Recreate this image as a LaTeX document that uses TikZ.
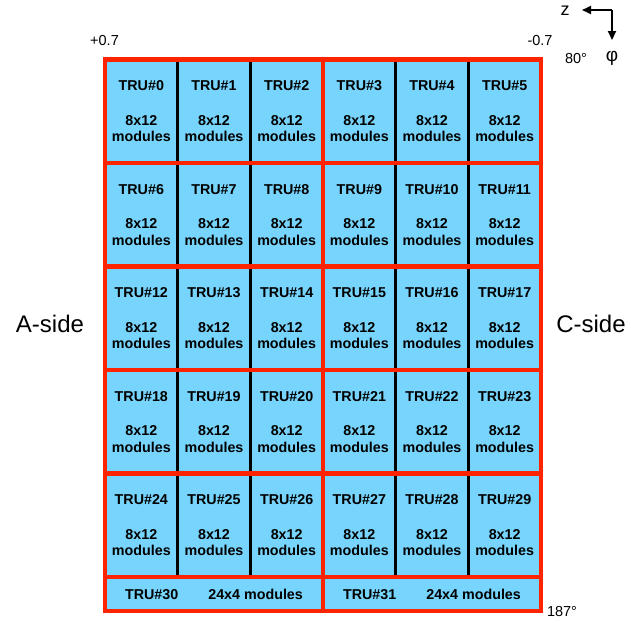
\documentclass[tikz,border=0pt]{standalone}
\usepackage{fontspec}
\setmainfont{Liberation Sans}
\usetikzlibrary{arrows.meta}
\definecolor{cellblue}{RGB}{119,212,252}
\definecolor{framered}{RGB}{255,36,0}
\tikzset{
  cell/.style={draw=black, line width=2.5pt, fill=cellblue, minimum width=72.67pt, minimum height=103.5pt, inner sep=0pt, outer sep=0pt, align=center, font=\fontsize{14.3}{16.5}\selectfont\bfseries},
  wide/.style={draw=black, line width=2.5pt, fill=cellblue, minimum width=218pt, minimum height=34pt, inner sep=0pt, outer sep=0pt, font=\fontsize{14.3}{16.5}\selectfont\bfseries},
  redline/.style={draw=framered, line width=4.8pt},
  lbl/.style={font=\fontsize{14.5}{16}\selectfont, inner sep=0pt},
  side/.style={font=\fontsize{24}{28}\selectfont, inner sep=0pt},
  axis/.style={line width=2pt, -{Triangle[length=9pt,width=8pt]}}
}
\begin{document}
\begin{tikzpicture}[x=1pt,y=-1pt]
\useasboundingbox (0,0) rectangle (631,622);
\foreach \r in {0,...,4}{
  \foreach \c in {0,...,5}{
    \pgfmathtruncatemacro{\n}{\r*6+\c}
    \node[cell] (t\n) at ({105+72.6667*(\c+0.5)},{59.5+103.5*(\r+0.5)}) {TRU\#\n\\[18pt]8x12\\modules};
  }
}
\node[wide] (t30) at (214,594) {TRU\#30\hspace{30pt}24x4 modules};
\node[wide] (t31) at (432,594) {TRU\#31\hspace{30pt}24x4 modules};
% red group frames
\foreach \a/\b in {0/2,3/5,6/8,9/11,12/14,15/17,18/20,21/23,24/26,27/29}{
  \draw[redline] (t\a.north west) rectangle (t\b.south east);
}
\draw[redline] (t30.north west) rectangle (t30.south east);
\draw[redline] (t31.north west) rectangle (t31.south east);
% labels
\node[lbl] (p07) at (104.5,41) {+0.7};
\node[lbl] (m07) at (540,41) {-0.7};
\node[lbl] (d80) at (576,59) {80°};
\node[lbl] (d187) at (562,611) {187°};
\node[side] (aside) at (50,324) {A-side};
\node[side] (cside) at (591,324) {C-side};
\node[lbl, font=\fontsize{18}{20}\selectfont] (zl) at (565,11) {z};
\node[lbl, font=\fontsize{19}{21}\selectfont] (phi) at (612,58) {φ};
\coordinate (corner) at (612,10);
\coordinate (ztip) at (582,10);
\coordinate (ptip) at (612,40);
\draw[axis] (corner) -- (ztip);
\draw[axis] (corner) -- (ptip);
\end{tikzpicture}
\end{document}
